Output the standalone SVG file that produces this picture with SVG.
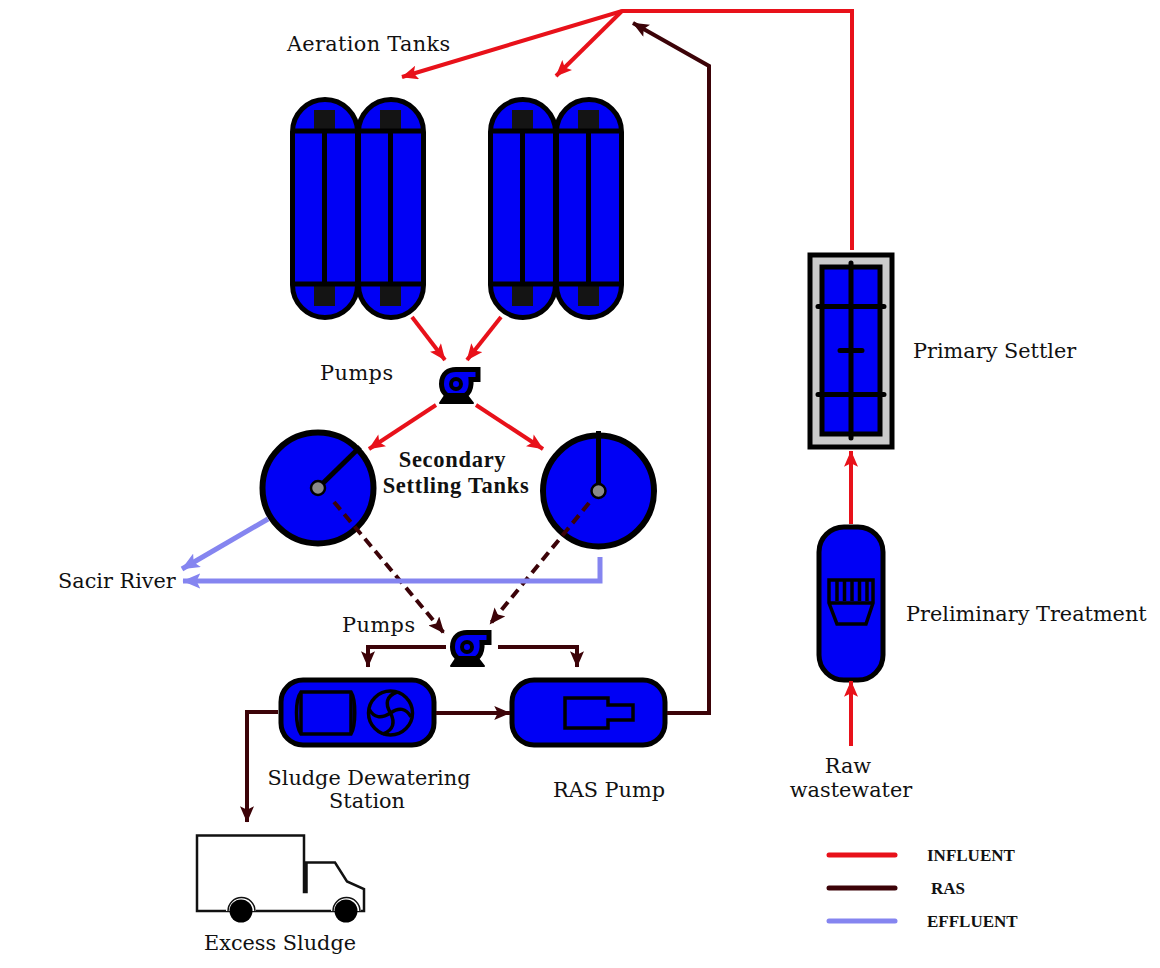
<svg xmlns="http://www.w3.org/2000/svg" width="1160" height="968" viewBox="0 0 1160 968">
<style>
.tank{fill:#0000f5;stroke:#000;stroke-width:5}
.ln{fill:none;stroke:#000;stroke-width:5}
.thin{fill:none;stroke:#000;stroke-width:3.500}
.blk{fill:#141414}
.inf{fill:none;stroke:#e8111a;stroke-width:4}
.ras{fill:none;stroke:#3c0308;stroke-width:4}
.eff{fill:none;stroke:#8585f0;stroke-width:5}
.dash{stroke-dasharray:10 6}
text{font-family:"DejaVu Serif","Liberation Serif",serif;font-size:20.800px;fill:#111}
.b{font-family:"Liberation Serif",serif;font-weight:bold;font-size:22.500px;letter-spacing:.7px}
.lg{font-family:"Liberation Serif",serif;font-weight:bold;font-size:17px}
</style>
<defs>
<marker id="ar" viewBox="0 0 14 12" refX="13.500" refY="6" markerWidth="17" markerHeight="14" markerUnits="userSpaceOnUse" orient="auto"><path d="M0 0L14 6L0 12L3 6Z" fill="#e8111a"/></marker>
<marker id="ad" viewBox="0 0 14 12" refX="13.500" refY="6" markerWidth="17" markerHeight="14" markerUnits="userSpaceOnUse" orient="auto"><path d="M0 0L14 6L0 12L3 6Z" fill="#3c0308"/></marker>
<marker id="ae" viewBox="0 0 14 12" refX="13.500" refY="6" markerWidth="18" markerHeight="16" markerUnits="userSpaceOnUse" orient="auto"><path d="M0 0L14 6L0 12L3 6Z" fill="#8585f0"/></marker>
<g id="tk">
<rect class="tank" x="292.500" y="99.500" width="65" height="218" rx="32.500"/>
<rect class="blk" x="314" y="110" width="21" height="21"/>
<rect class="blk" x="314" y="284" width="21" height="22"/>
<path class="ln" d="M292 131H357M292 284H357"/>
<path class="ln" d="M324.500 131V284"/>
</g>
<g id="pmp">
<path d="M441.500 384C441.500 373 449 369.500 456 369.500H478V379.500H471C472 392 466 398 456 398C447 398 441.500 392 441.500 384Z" fill="#0000f5" stroke="#000" stroke-width="5"/>
<circle cx="456" cy="384" r="5" fill="#0000f5" stroke="#000" stroke-width="4"/>
<path d="M446 394H466L473 403H440Z" fill="#000" stroke="#000" stroke-width="2" stroke-linejoin="round"/>
</g>
</defs>
<g id="aeration-1"><use href="#tk"/></g>
<g id="aeration-2"><use href="#tk" x="66"/></g>
<g id="aeration-3"><use href="#tk" x="198"/></g>
<g id="aeration-4"><use href="#tk" x="264"/></g>
<g id="pump-1"><use href="#pmp"/></g>
<g id="pump-2"><use href="#pmp" x="11" y="263"/></g>
<g id="clarifier-1">
<circle class="tank" cx="318" cy="488" r="55.500" style="stroke-width:6"/>
<path class="ln" d="M318 488L360 447"/>
<circle cx="318" cy="488" r="7" fill="#8a8a8a" stroke="#000" stroke-width="2.500"/>
</g>
<g id="clarifier-2">
<circle class="tank" cx="598.500" cy="491" r="55.500" style="stroke-width:6"/>
<path class="ln" d="M598.500 491V431"/>
<circle cx="598.500" cy="491" r="7" fill="#8a8a8a" stroke="#000" stroke-width="2.500"/>
</g>
<g id="primary-settler">
<rect x="810" y="255" width="82" height="192" fill="#cbcbcb" stroke="#000" stroke-width="5"/>
<rect class="tank" x="822" y="267" width="58" height="167"/>
<path class="ln" stroke-linecap="round" d="M851 263V438M818 306.500H884M818 394.500H884M840 350.500H862"/>
</g>
<g id="preliminary">
<rect class="tank" x="819" y="527" width="64" height="153" rx="25"/>
<path class="thin" d="M829 580H873V603L866 624H837L829 603ZM829 603H873"/>
<path class="thin" d="M837 580V601M844.500 580V601M852 580V601M859.500 580V601M867 580V601"/>
</g>
<g id="dewatering">
<rect class="tank" x="281" y="680" width="153" height="65" rx="22"/>
<path class="thin" d="M301 692H351C356 700 356 725 351 734H301C295 725 295 700 301 692Z"/>
<path class="thin" d="M301 692V734M351 692V734"/>
<circle class="thin" cx="390.500" cy="713" r="22"/>
<path class="thin" d="M390.500 713C385 704 386 696 397 692M390.500 713C399 707 406 708 411 717M390.500 713C395 722 394 730 383 734M390.500 713C381 719 374 718 369 709"/>
</g>
<g id="ras-pump">
<rect class="tank" x="512" y="680" width="153" height="65" rx="22"/>
<path class="thin" d="M565 698H608V705H633V720H608V728H565Z"/>
</g>
<g id="truck">
<path fill="none" stroke="#111" stroke-width="2.500" d="M197 835.500H304V892H306.500V862.500H335L347 881.500L364 889V911H197Z"/>
<path fill="#fff" d="M226 911A15 15 0 0 1 256 911ZM331 911A15 15 0 0 1 361 911Z"/>
<path fill="none" stroke="#111" stroke-width="1.500" d="M228 911A13.500 13.500 0 0 1 255 911M333 911A13.500 13.500 0 0 1 360 911"/>
<circle cx="241" cy="911" r="11.500" fill="#000"/>
<circle cx="346" cy="911" r="11.500" fill="#000"/>
</g>
<g id="connectors">
<path class="inf" marker-end="url(#ar)" d="M852 250V11H622L402 77"/>
<path class="inf" marker-end="url(#ar)" d="M622 11L556 76"/>
<path class="ras" marker-end="url(#ad)" d="M667 713H709V66L633 23"/>
<path class="inf" marker-end="url(#ar)" d="M412 317L445 360"/>
<path class="inf" marker-end="url(#ar)" d="M501 317L467 360"/>
<path class="inf" marker-end="url(#ar)" d="M436 405L369 449"/>
<path class="inf" marker-end="url(#ar)" d="M476 405L543 449"/>
<path class="ras dash" marker-end="url(#ad)" d="M334 502L444 633"/>
<path class="ras dash" marker-end="url(#ad)" d="M589 503L490 624"/>
<path class="ras" marker-end="url(#ad)" d="M446 647H368V667"/>
<path class="ras" marker-end="url(#ad)" d="M498 647H577V667"/>
<path class="ras" marker-end="url(#ad)" d="M436 713H510"/>
<path class="ras" marker-end="url(#ad)" d="M278 712H247V822"/>
<path class="eff" marker-end="url(#ae)" d="M268 519L182 569"/>
<path class="eff" marker-end="url(#ae)" d="M600 557V581H183"/>
<path class="inf" marker-end="url(#ar)" d="M851 524V451"/>
<path class="inf" marker-end="url(#ar)" d="M851 746V681"/>
</g>
<g id="labels">
<text x="287" y="51" style="letter-spacing:.35px">Aeration Tanks</text>
<text x="320" y="380" style="letter-spacing:.5px">Pumps</text>
<text x="342" y="632" style="letter-spacing:.5px">Pumps</text>
<text class="b" x="452.500" y="467" text-anchor="middle">Secondary</text>
<text class="b" x="456" y="493" text-anchor="middle">Settling Tanks</text>
<text x="58" y="588">Sacir River</text>
<text x="913" y="358">Primary Settler</text>
<text x="906" y="621">Preliminary Treatment</text>
<text x="369" y="785" text-anchor="middle">Sludge Dewatering</text>
<text x="367" y="808" text-anchor="middle">Station</text>
<text x="553" y="797">RAS Pump</text>
<text x="848" y="773" text-anchor="middle">Raw</text>
<text x="851" y="797" text-anchor="middle">wastewater</text>
<text x="204" y="950">Excess Sludge</text>
</g>
<g id="legend">
<path d="M829 855H895" fill="none" stroke="#e8111a" stroke-width="5" stroke-linecap="round"/>
<path d="M829 888H895" fill="none" stroke="#3c0308" stroke-width="5" stroke-linecap="round"/>
<path d="M829 921H895" fill="none" stroke="#8585f0" stroke-width="5" stroke-linecap="round"/>
<text class="lg" x="927" y="861">INFLUENT</text>
<text class="lg" x="931" y="894">RAS</text>
<text class="lg" x="927" y="927">EFFLUENT</text>
</g>
</svg>
